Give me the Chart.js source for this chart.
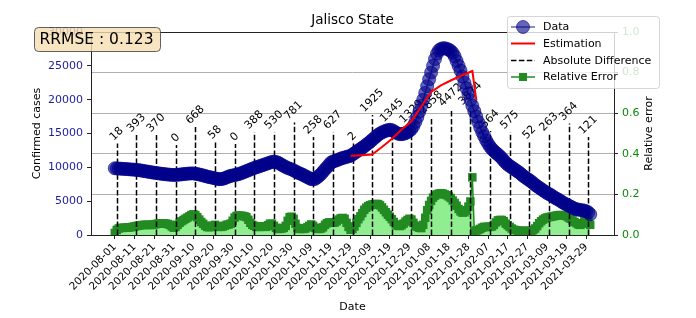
<!DOCTYPE html>
<html>
<head>
<meta charset="utf-8">
<script src="https://cdn.jsdelivr.net/npm/chart.js@4.4.1/dist/chart.umd.min.js"></script>
<style>
  html, body { margin: 0; padding: 0; background: #fff; overflow: hidden; }
  canvas { display: block; }
</style>
</head>
<body>
<canvas id="grafico" width="696" height="318"></canvas>
<script>
// date axis: one tick every 10 days, day 0 = 2020-08-01
const tickDays = [0, 10, 20, 30, 40, 50, 60, 70, 80, 90, 100, 110, 120, 130, 140, 150, 160, 170, 180, 190, 200, 210, 220, 230, 240];
const dateTicks = ["2020-08-01", "2020-08-11", "2020-08-21", "2020-08-31", "2020-09-10", "2020-09-20", "2020-09-30",
  "2020-10-10", "2020-10-20", "2020-10-30", "2020-11-09", "2020-11-19", "2020-11-29", "2020-12-09", "2020-12-19",
  "2020-12-29", "2021-01-08", "2021-01-18", "2021-01-28", "2021-02-07", "2021-02-17", "2021-02-27", "2021-03-09",
  "2021-03-19", "2021-03-29"];

// confirmed cases, one value per day
const confirmed = [
  9860, 9840, 9820, 9800, 9780, 9760, 9740, 9720, 9690, 9670,
  9650, 9620, 9590, 9550, 9500, 9450, 9400, 9350, 9300, 9250,
  9200, 9160, 9120, 9080, 9040, 9000, 8970, 8940, 8910, 8890,
  8870, 8880, 8900, 8930, 8960, 9000, 9030, 9060, 9080, 9100,
  9100, 9060, 9000, 8940, 8880, 8800, 8720, 8640, 8560, 8500,
  8450, 8380, 8300, 8250, 8260, 8300, 8400, 8520, 8640, 8740,
  8800, 8860, 8920, 9000, 9100, 9200, 9320, 9440, 9560, 9680,
  9800, 9900, 10000, 10100, 10200, 10300, 10400, 10500, 10600, 10700,
  10800, 10850, 10800, 10700, 10550, 10350, 10200, 10050, 9900, 9800,
  9700, 9550, 9400, 9250, 9100, 9000, 8850, 8700, 8550, 8400,
  8250, 8230, 8300, 8500, 8750, 9000, 9350, 9700, 10000, 10350,
  10700, 10850, 10950, 11050, 11150, 11300, 11380, 11450, 11550, 11620,
  11700, 11900, 12100, 12300, 12500, 12700, 12900, 13100, 13350, 13550,
  13800, 14050, 14300, 14550, 14800, 15000, 15150, 15300, 15400, 15500,
  15550, 15500, 15350, 15150, 15000, 14900, 14900, 14950, 15050, 15200,
  15400, 15650, 16100, 16700, 17400, 18200, 19100, 20000, 21000, 22000,
  23000, 24000, 25000, 26000, 26800, 27300, 27500, 27600, 27600, 27500,
  27400, 27200, 26900, 26400, 25700, 25000, 24300, 23400, 22500, 21700,
  20900, 19950, 19100, 18300, 17500, 16700, 15900, 15200, 14600, 14000,
  13500, 13050, 12700, 12400, 12150, 11900, 11650, 11350, 11000, 10700,
  10400, 10200, 10000, 9800, 9600, 9400, 9200, 8950, 8700, 8500,
  8300, 8100, 7900, 7650, 7400, 7200, 7000, 6800, 6600, 6400,
  6200, 6050, 5900, 5700, 5500, 5350, 5200, 5000, 4800, 4650,
  4500, 4350, 4200, 4050, 3900, 3800, 3750, 3700, 3650, 3600,
  3500, 3350, 3050
];

// estimation (red line), only where it shows
const estDays = [120, 123, 126, 131, 136, 141, 146, 151, 156, 161, 166, 171, 176, 182, 184];
const estValues = [11700, 11750, 11800, 11900, 13000, 14200, 15600, 16800, 19000, 21150, 22100, 22830, 23500, 24240, 19950];

// relative error, one value per day (right axis)
const relError = [
  0.010, 0.025, 0.032, 0.035, 0.035, 0.036, 0.036, 0.037, 0.038, 0.040,
  0.042, 0.044, 0.046, 0.048, 0.049, 0.050, 0.050, 0.050, 0.049, 0.050,
  0.052, 0.054, 0.056, 0.057, 0.058, 0.057, 0.056, 0.054, 0.050, 0.042,
  0.036, 0.040, 0.050, 0.060, 0.068, 0.074, 0.080, 0.086, 0.092, 0.098,
  0.102, 0.098, 0.088, 0.076, 0.064, 0.055, 0.046, 0.040, 0.038, 0.040,
  0.046, 0.050, 0.044, 0.040, 0.040, 0.042, 0.046, 0.050, 0.052, 0.056,
  0.070, 0.086, 0.094, 0.096, 0.095, 0.094, 0.092, 0.088, 0.075, 0.060,
  0.050, 0.045, 0.040, 0.040, 0.040, 0.042, 0.042, 0.040, 0.048, 0.056,
  0.055, 0.045, 0.035, 0.030, 0.030, 0.032, 0.035, 0.045, 0.070, 0.088,
  0.090, 0.080, 0.055, 0.035, 0.030, 0.030, 0.030, 0.032, 0.038, 0.045,
  0.052, 0.045, 0.035, 0.030, 0.030, 0.032, 0.038, 0.050, 0.058, 0.062,
  0.062, 0.060, 0.062, 0.068, 0.076, 0.082, 0.084, 0.080, 0.060, 0.040,
  0.026, 0.030, 0.042, 0.060, 0.078, 0.092, 0.108, 0.124, 0.134, 0.142,
  0.147, 0.150, 0.152, 0.153, 0.152, 0.146, 0.136, 0.124, 0.112, 0.100,
  0.090, 0.078, 0.064, 0.052, 0.046, 0.044, 0.048, 0.056, 0.066, 0.074,
  0.080, 0.076, 0.060, 0.046, 0.040, 0.036, 0.034, 0.050, 0.085, 0.122,
  0.148, 0.168, 0.184, 0.194, 0.200, 0.204, 0.206, 0.204, 0.200, 0.196,
  0.190, 0.182, 0.170, 0.158, 0.144, 0.128, 0.116, 0.110, 0.112, 0.122,
  0.140, 0.165, 0.284, 0.020, 0.022, 0.025, 0.030, 0.036, 0.040, 0.040,
  0.040, 0.040, 0.042, 0.050, 0.062, 0.072, 0.074, 0.074, 0.068, 0.056,
  0.048, 0.040, 0.032, 0.026, 0.024, 0.022, 0.020, 0.020, 0.020, 0.020,
  0.020, 0.020, 0.020, 0.024, 0.032, 0.044, 0.058, 0.068, 0.076, 0.082,
  0.086, 0.088, 0.090, 0.092, 0.094, 0.096, 0.098, 0.098, 0.098, 0.096,
  0.092, 0.086, 0.080, 0.072, 0.064, 0.058, 0.052, 0.050, 0.056, 0.068,
  0.078, 0.070, 0.050
];

// absolute difference markers (dashed lines with labels)
const diffDays = [1, 11, 21, 31, 41, 51, 61, 71, 81, 91, 101, 111, 121, 131, 141, 151, 161, 171, 181, 191, 201, 211, 221, 231, 241];
const diffValues = [18, 393, 370, 0, 668, 58, 0, 388, 530, 781, 258, 627, 2, 1925, 1345, 1329, 2858, 4472, 3874, 564, 575, 52, 263, 364, 121];
const diffTops = [13520, 14780, 14780, 13300, 15960, 13740, 13450, 15220, 15220, 16630, 14480, 15220, 13520,
  17730, 16260, 16110, 17440, 18550, 18770, 15370, 15220, 13740, 14930, 16480, 14480];

const rrmse = 0.123;
const titulo = "Jalisco State";

const FONTE = "'DejaVu Sans', sans-serif";
Chart.defaults.font.family = FONTE;
Chart.defaults.font.size = 11;
Chart.defaults.color = "#000";

const AZUL = "rgba(0,0,139,0.6)";
const VERDE = "#228B22";

// dashed lines + labels, drawn just before the blue data so the circles cover them
const linhasDiferenca = {
  id: "linhasDiferenca",
  beforeDatasetDraw(chart, args) {
    if (chart.data.datasets[args.index].label !== "Data") return;
    const { ctx } = chart;
    const xs = chart.scales.x, ys = chart.scales.y;
    const base = ys.getPixelForValue(0);
    ctx.save();
    ctx.strokeStyle = "#000";
    ctx.lineWidth = 1.5;
    ctx.setLineDash([5.5, 2.4]);
    diffDays.forEach((d, i) => {
      const px = Math.round(xs.getPixelForValue(d)) + 0.5;
      const top = ys.getPixelForValue(diffTops[i]);
      ctx.beginPath();
      ctx.moveTo(px, base);
      ctx.lineTo(px, top);
      ctx.stroke();
    });
    ctx.setLineDash([]);
    ctx.font = "11px " + FONTE;
    ctx.fillStyle = "#000";
    ctx.textAlign = "center";
    ctx.textBaseline = "middle";
    diffDays.forEach((d, i) => {
      const txt = String(diffValues[i]);
      const w = ctx.measureText(txt).width;
      const h = 12.8;
      const lado = (w + h) / Math.SQRT2;
      const px = xs.getPixelForValue(d);
      const top = ys.getPixelForValue(diffTops[i]);
      ctx.save();
      ctx.translate(px, top - lado / 2);
      ctx.rotate(-Math.PI / 4);
      ctx.fillText(txt, 0, 0);
      ctx.restore();
    });
    ctx.restore();
  }
};

function caixaArredondada(ctx, x, y, w, h, r) {
  ctx.beginPath();
  ctx.moveTo(x + r, y);
  ctx.lineTo(x + w - r, y);
  ctx.quadraticCurveTo(x + w, y, x + w, y + r);
  ctx.lineTo(x + w, y + h - r);
  ctx.quadraticCurveTo(x + w, y + h, x + w - r, y + h);
  ctx.lineTo(x + r, y + h);
  ctx.quadraticCurveTo(x, y + h, x, y + h - r);
  ctx.lineTo(x, y + r);
  ctx.quadraticCurveTo(x, y, x + r, y);
  ctx.closePath();
}

const extras = {
  id: "extras",
  afterDatasetsDraw(chart) {
    const { ctx, chartArea: a } = chart;
    ctx.save();
    ctx.strokeStyle = "#222";
    ctx.lineWidth = 1;
    ctx.strokeRect(Math.round(a.left) + 0.5, Math.round(a.top) + 0.5,
      Math.round(a.right - a.left), Math.round(a.bottom - a.top));
    ctx.restore();
  },
  afterDraw(chart) {
    const { ctx, chartArea: a } = chart;
    ctx.save();

    // title
    ctx.fillStyle = "#000";
    ctx.font = "13.5px " + FONTE;
    ctx.textAlign = "center";
    ctx.textBaseline = "middle";
    ctx.fillText(titulo, (a.left + a.right) / 2, 20);

    // right axis title, reading bottom to top
    ctx.save();
    ctx.font = "11px " + FONTE;
    ctx.translate(649, (a.top + a.bottom) / 2);
    ctx.rotate(-Math.PI / 2);
    ctx.fillText("Relative error", 0, 0);
    ctx.restore();

    // RRMSE box
    caixaArredondada(ctx, 34.5, 27.5, 126, 24, 4);
    ctx.fillStyle = "rgba(245,222,179,0.8)";
    ctx.fill();
    ctx.strokeStyle = "rgba(60,60,60,0.8)";
    ctx.lineWidth = 1;
    ctx.stroke();
    ctx.fillStyle = "#000";
    ctx.font = "15.5px " + FONTE;
    ctx.textAlign = "left";
    ctx.textBaseline = "middle";
    ctx.fillText("RRMSE : " + rrmse.toFixed(3), 39.5, 40);

    // legend
    caixaArredondada(ctx, 507.5, 16.5, 152, 72, 3);
    ctx.fillStyle = "rgba(255,255,255,0.8)";
    ctx.fill();
    ctx.strokeStyle = "rgba(204,204,204,0.8)";
    ctx.stroke();

    const x0 = 511, x1 = 535, xm = 523, xt = 543;
    const linhas = [27, 43.5, 60.5, 77];
    ctx.font = "11px " + FONTE;
    ctx.textAlign = "left";
    ctx.textBaseline = "middle";

    // Data
    ctx.strokeStyle = AZUL; ctx.lineWidth = 1.5;
    ctx.beginPath(); ctx.moveTo(x0, linhas[0]); ctx.lineTo(x1, linhas[0]); ctx.stroke();
    ctx.beginPath(); ctx.arc(xm, linhas[0], 6.5, 0, Math.PI * 2);
    ctx.fillStyle = AZUL; ctx.fill(); ctx.lineWidth = 1; ctx.stroke();
    // Estimation
    ctx.strokeStyle = "red"; ctx.lineWidth = 2;
    ctx.beginPath(); ctx.moveTo(x0, linhas[1]); ctx.lineTo(x1, linhas[1]); ctx.stroke();
    // Absolute Difference
    ctx.strokeStyle = "#000"; ctx.lineWidth = 1.5; ctx.setLineDash([5.5, 2.4]);
    ctx.beginPath(); ctx.moveTo(x0, linhas[2]); ctx.lineTo(x1, linhas[2]); ctx.stroke();
    ctx.setLineDash([]);
    // Relative Error
    ctx.strokeStyle = VERDE; ctx.lineWidth = 1.5;
    ctx.beginPath(); ctx.moveTo(x0, linhas[3]); ctx.lineTo(x1, linhas[3]); ctx.stroke();
    ctx.fillStyle = VERDE; ctx.fillRect(xm - 4, linhas[3] - 4, 8, 8);

    ctx.fillStyle = "#000";
    ["Data", "Estimation", "Absolute Difference", "Relative Error"].forEach((t, i) => {
      ctx.fillText(t, xt, linhas[i] + 0.5);
    });
    ctx.restore();
  }
};

const ctxGrafico = document.getElementById("grafico").getContext("2d");

new Chart(ctxGrafico, {
  type: "line",
  data: {
    datasets: [
      {
        label: "Estimation",
        data: estDays.map((d, i) => ({ x: d, y: estValues[i] })),
        borderColor: "red",
        borderWidth: 2,
        pointRadius: 0,
        tension: 0,
        yAxisID: "y",
        order: 0
      },
      {
        label: "Data",
        data: confirmed.map((v, i) => ({ x: i, y: v })),
        borderColor: AZUL,
        borderWidth: 1.5,
        pointRadius: 6.5,
        pointBackgroundColor: AZUL,
        pointBorderColor: AZUL,
        pointBorderWidth: 1,
        tension: 0,
        yAxisID: "y",
        order: 1
      },
      {
        label: "Relative Error",
        data: relError.map((v, i) => ({ x: i, y: v })),
        borderColor: VERDE,
        borderWidth: 1.5,
        backgroundColor: "#90EE90",
        fill: "origin",
        pointStyle: "rect",
        pointRadius: 6,
        pointBackgroundColor: VERDE,
        pointBorderWidth: 0,
        tension: 0,
        yAxisID: "y1",
        order: 2
      }
    ]
  },
  options: {
    responsive: false,
    animation: false,
    devicePixelRatio: 1,
    layout: { padding: { top: 32, left: 0, right: 0, bottom: 0 } },
    plugins: {
      legend: { display: false },
      tooltip: { enabled: false },
      title: { display: false }
    },
    scales: {
      x: {
        type: "linear",
        min: -12.1,
        max: 254.1,
        afterBuildTicks: (scale) => { scale.ticks = tickDays.map(v => ({ value: v })); },
        afterFit: (scale) => { scale.height = 83; },
        border: { display: false },
        grid: { drawOnChartArea: false, tickLength: 4, tickColor: "#222" },
        ticks: {
          autoSkip: false,
          maxRotation: 45,
          minRotation: 45,
          padding: 2,
          font: { size: 10.5 },
          color: "#000",
          callback: (v) => { const i = tickDays.indexOf(v); return i >= 0 ? dateTicks[i] : ""; }
        },
        title: { display: true, text: "Date", font: { size: 11 }, padding: { top: 4.4, bottom: 4.4 } }
      },
      y: {
        position: "left",
        min: 0,
        max: 30000,
        afterFit: (scale) => { scale.width = 91; },
        border: { display: false },
        grid: { drawOnChartArea: false, tickLength: 4, tickColor: "#222" },
        ticks: { stepSize: 5000, padding: 4, color: "#1c1ca0", callback: (v) => String(v) },
        title: { display: true, text: "Confirmed cases", font: { size: 11 }, padding: { top: 30.4, bottom: 30.4 } }
      },
      y1: {
        position: "right",
        min: 0,
        max: 1,
        afterFit: (scale) => { scale.width = 82; },
        border: { display: false },
        grid: { drawOnChartArea: true, color: "#b0b0b0", lineWidth: 1, tickLength: 4, tickColor: "#222" },
        ticks: { stepSize: 0.2, padding: 4, color: "#0a8a0a", callback: (v) => v.toFixed(1) }
      }
    }
  },
  plugins: [linhasDiferenca, extras]
});
</script>
</body>
</html>
